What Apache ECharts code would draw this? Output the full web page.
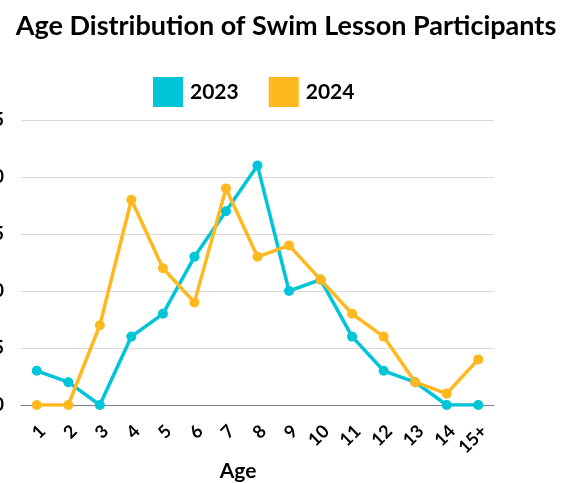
<!DOCTYPE html>
<html>
<head>
<meta charset="utf-8">
<script src="https://cdn.jsdelivr.net/npm/echarts@6/dist/echarts.min.js"></script>
<style>
html,body{margin:0;padding:0;background:#fff;}
#chart{width:572px;height:483px;}
</style>
</head>
<body>
<div id="chart"></div>
<script>
const categories = ['1','2','3','4','5','6','7','8','9','10','11','12','13','14','15+'];
const series2023 = [3,2,0,6,8,13,17,21,10,11,6,3,2,0,0];
const series2024 = [0,0,7,18,12,9,19,13,14,11,8,6,2,1,4];
const yTicks = {min:0, max:25, interval:5};

const FONT = 'Lato';
const chart = echarts.init(document.getElementById('chart'), null, {renderer:'canvas'});
chart.setOption({
  animation:false,
  backgroundColor:'#ffffff',
  title:[{
    text:'Age Distribution of Swim Lesson Participants',
    left:281, top:8, textAlign:'center',
    textStyle:{fontFamily:FONT, fontWeight:'bold', fontSize:27, color:'#000'}
  },{
    text:'Age',
    left:233, top:456, textAlign:'center',
    textStyle:{fontFamily:FONT, fontWeight:'bold', fontSize:21, color:'#000'}
  }],
  legend:{
    left:148, top:72,
    itemWidth:30, itemHeight:30, itemGap:30,
    icon:'rect',
    textStyle:{fontFamily:FONT, fontWeight:'bold', fontSize:21, color:'#000', padding:[0,0,0,2]},
    data:['2023','2024']
  },
  grid:{left:21, right:78, top:120, bottom:78, containLabel:false, outerBoundsMode:'none'},
  xAxis:{
    type:'category',
    data:categories,
    boundaryGap:true,
    axisLine:{lineStyle:{color:'#808080', width:1}},
    axisTick:{show:false},
    axisLabel:{rotate:45, margin:29, padding:[0,-8,0,0], fontFamily:FONT, fontWeight:'bold', fontSize:18, color:'#000', interval:0}
  },
  yAxis:{
    type:'value',
    min:yTicks.min, max:yTicks.max, interval:yTicks.interval,
    axisLine:{show:false},
    axisTick:{show:false},
    splitLine:{lineStyle:{color:'#d9d9d9', width:1}},
    axisLabel:{margin:17, fontFamily:FONT, fontWeight:'bold', fontSize:18, color:'#000'}
  },
  series:[{
    name:'2023', type:'line', data:series2023,
    symbol:'circle', symbolSize:10,
    lineStyle:{color:'#00C5D8', width:3.5},
    itemStyle:{color:'#00C5D8'}
  },{
    name:'2024', type:'line', data:series2024,
    symbol:'circle', symbolSize:10,
    lineStyle:{color:'#FFB81E', width:3.5},
    itemStyle:{color:'#FFB81E'}
  }]
});
</script>
</body>
</html>
